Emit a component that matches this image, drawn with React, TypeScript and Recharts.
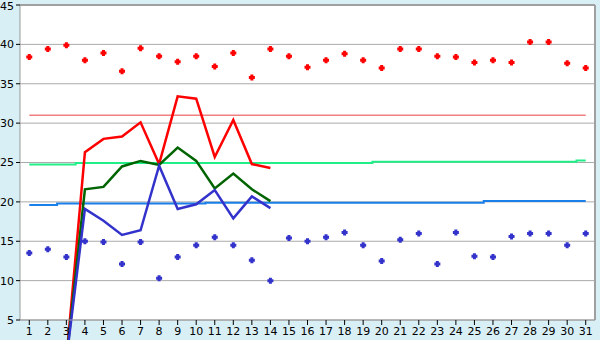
import {
  ComposedChart,
  Line,
  Scatter,
  XAxis,
  YAxis,
  CartesianGrid,
  ReferenceLine,
} from "recharts";

const days = Array.from({ length: 31 }, (_, i) => i + 1);

const highDots = [
  38.4, 39.4, 39.9, 38.0, 38.9, 36.6, 39.5, 38.5, 37.8, 38.5, 37.2, 38.9, 35.8, 39.4, 38.5, 37.1,
  38.0, 38.8, 38.0, 37.0, 39.4, 39.4, 38.5, 38.4, 37.7, 38.0, 37.7, 40.3, 40.3, 37.6, 37.0,
];
const lowDots = [
  13.5, 14.0, 13.0, 15.0, 14.9, 12.1, 14.9, 10.3, 13.0, 14.5, 15.5, 14.5, 12.6, 10.0, 15.4, 15.0,
  15.5, 16.1, 14.5, 12.5, 15.2, 16.0, 12.1, 16.1, 13.1, 13.0, 15.6, 16.0, 16.0, 14.5, 16.0,
];
const redLine = [null, null, 0, 26.3, 28.0, 28.3, 30.1, 24.8, 33.4, 33.1, 25.7, 30.4, 24.8, 24.3];
const greenLine = [null, null, 0, 21.6, 21.9, 24.5, 25.2, 24.7, 26.9, 25.2, 21.7, 23.6, 21.6, 20.1];
const blueLine = [null, null, 0, 19.1, 17.6, 15.8, 16.4, 24.6, 19.1, 19.7, 21.5, 17.9, 20.7, 19.2];
const pinkLevel = days.map(() => 31.0);
const greenLevel = [
  24.75, 24.75, 24.75, 24.95, 24.95, 24.95, 24.95, 24.95, 24.95, 24.95, 24.95, 24.95, 24.95, 24.95,
  24.95, 24.95, 24.95, 24.95, 24.95, 25.1, 25.1, 25.1, 25.1, 25.1, 25.1, 25.1, 25.1, 25.1, 25.1,
  25.1, 25.25,
];
const blueLevel = [
  19.6, 19.6, 19.8, 19.8, 19.8, 19.8, 19.8, 19.8, 19.8, 19.8, 19.9, 19.9, 19.9, 19.9, 19.9, 19.9,
  19.9, 19.9, 19.9, 19.9, 19.9, 19.9, 19.9, 19.9, 19.9, 20.1, 20.1, 20.1, 20.1, 20.1, 20.1,
];
const yTicks = [5, 10, 15, 20, 25, 30, 35, 40, 45];

const data = days.map((d, i) => ({
  day: d,
  high: highDots[i],
  low: lowDots[i],
  red: redLine[i] ?? null,
  green: greenLine[i] ?? null,
  blue: blueLine[i] ?? null,
  pink: pinkLevel[i],
  greenLvl: greenLevel[i],
  blueLvl: blueLevel[i],
}));

// small filled plus, like the original markers
const Plus = (color: string) => (props: any) => {
  const { cx, cy } = props;
  if (cx == null || cy == null) return null;
  const d = `M${cx - 1.5},${cy - 3}h3v1.5h1.5v3h-1.5v1.5h-3v-1.5h-1.5v-3h1.5z`;
  return <path d={d} fill={color} />;
};

export default function App() {
  return (
    <div style={{ width: 600, height: 340, background: "#d9eff6" }}>
      <style>{`body{margin:0} .recharts-wrapper [clip-path]{clip-path:none !important}`}</style>
      <ComposedChart
        width={600}
        height={340}
        data={data}
        margin={{ top: 5, right: 5, bottom: 0, left: 0 }}
      >
        <CartesianGrid vertical={false} stroke="#aaaaaa" fill="#ffffff" />
        <XAxis
          type="number"
          dataKey="day"
          domain={[0.5, 31.5]}
          ticks={days}
          interval={0}
          height={20}
          tickSize={5}
          stroke="#999999"
          tickLine={{ stroke: "#000" }}
          tick={{ fill: "#000", fontSize: 11, fontFamily: "DejaVu Sans" }}
        />
        <YAxis
          domain={[5, 45]}
          ticks={yTicks}
          allowDataOverflow
          width={20}
          tickSize={4}
          stroke="#999999"
          tickLine={{ stroke: "#000" }}
          tick={{ fill: "#000", fontSize: 11, fontFamily: "DejaVu Sans" }}
        />
        <ReferenceLine y={45} stroke="#a0a0a0" strokeWidth={2} />
        <ReferenceLine x={31.5} stroke="#a0a0a0" strokeWidth={2} />
        <Line dataKey="pink" stroke="#f08080" strokeWidth={1.5} dot={false} isAnimationActive={false} />
        <Line type="step" dataKey="greenLvl" stroke="#22ee88" strokeWidth={2} dot={false} isAnimationActive={false} />
        <Line type="step" dataKey="blueLvl" stroke="#1a7fe8" strokeWidth={2} dot={false} isAnimationActive={false} />
        <Line dataKey="red" stroke="#ff0000" strokeWidth={2.5} dot={false} isAnimationActive={false} />
        <Line dataKey="green" stroke="#006400" strokeWidth={2.5} dot={false} isAnimationActive={false} />
        <Line dataKey="blue" stroke="#3333cc" strokeWidth={2.5} dot={false} isAnimationActive={false} />
        <Scatter dataKey="high" shape={Plus("#ff0000")} isAnimationActive={false} />
        <Scatter dataKey="low" shape={Plus("#3333cc")} isAnimationActive={false} />
      </ComposedChart>
    </div>
  );
}
